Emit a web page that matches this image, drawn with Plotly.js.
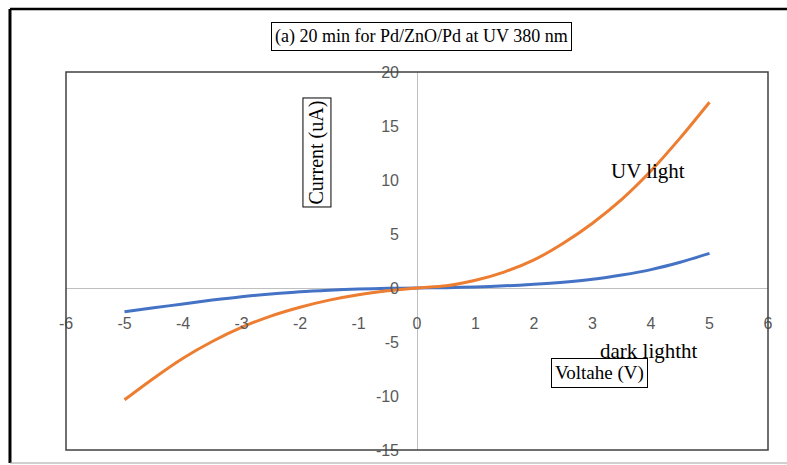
<!DOCTYPE html>
<html>
<head>
<meta charset="utf-8">
<script src="https://cdn.plot.ly/plotly-3.0.1.min.js"></script>
<style>html,body{margin:0;padding:0;background:#fff;}#chart{width:787px;height:465px;}</style>
</head>
<body>
<div id="chart"></div>
<script>
// Data
const voltage = [-5, -4.5, -4, -3.5, -3, -2.5, -2, -1.5, -1, -0.5, 0, 0.5, 1, 1.5, 2, 2.5, 3, 3.5, 4, 4.5, 5];
const uvLight = [-10.35, -8.35, -6.5, -4.95, -3.65, -2.6, -1.78, -1.12, -0.62, -0.26, 0, 0.2, 0.72, 1.5, 2.6, 4.15, 6.0, 8.2, 10.85, 13.9, 17.2];
const darkLight = [-2.19, -1.83, -1.48, -1.12, -0.8, -0.55, -0.34, -0.2, -0.1, -0.03, 0, 0.03, 0.1, 0.2, 0.34, 0.53, 0.8, 1.2, 1.7, 2.38, 3.2];

const xTickVals = [-6, -5, -4, -3, -2, -1, 0, 1, 2, 3, 4, 5, 6];
const xTickText = ["-6", "-5", "-4", "-3", "-2", "-1", "0", "1", "2", "3", "4", "5", "6"];
const yTickVals = [-15, -10, -5, 0, 5, 10, 15, 20];
const yTickText = ["-15", "-10", "-5", "0", "5", "10", "15", "20"];

const chartTitle = "(a) 20 min for Pd/ZnO/Pd at UV 380 nm";
const xTitle = "Voltahe (V)";
const yTitle = "Current (uA)";
const uvLabel = "UV light";
const darkLabel = "dark lightht";

const serif = "Liberation Serif, Times New Roman, serif";
const tickFont = {family: "Liberation Sans, Arial, sans-serif", size: 16, color: "#595959"};

const traces = [
  {x: voltage, y: darkLight, mode: "lines", line: {color: "#4472C4", width: 3, shape: "spline", smoothing: 0.8}, name: "dark", hoverinfo: "skip"},
  {x: voltage, y: uvLight, mode: "lines", line: {color: "#ED7D31", width: 3, shape: "spline", smoothing: 0.8}, name: "UV", hoverinfo: "skip"}
];

const boxed = {showarrow: false, xanchor: "center", yanchor: "middle", xref: "paper", yref: "paper",
  font: {family: serif, size: 18, color: "#000"}, bordercolor: "#000", borderwidth: 1, borderpad: 3, bgcolor: "#fff"};
const plain = {showarrow: false, xanchor: "center", yanchor: "middle", xref: "paper", yref: "paper",
  font: {family: serif, size: 21, color: "#000"}};

const layout = {
  width: 787, height: 465, autosize: false,
  margin: {l: 66, r: 19, t: 72, b: 15, pad: 0},
  paper_bgcolor: "#ffffff", plot_bgcolor: "#ffffff",
  showlegend: false,
  xaxis: {
    range: [-6, 6], anchor: "free", position: 15/35,
    tickmode: "array", tickvals: xTickVals, ticktext: xTickText,
    ticks: "", showgrid: false, showline: false,
    zeroline: true, zerolinecolor: "#bfbfbf", zerolinewidth: 1,
    tickfont: tickFont, ticklabelstandoff: 24, fixedrange: true
  },
  yaxis: {
    range: [-15, 20], anchor: "free", position: 0.5,
    tickmode: "array", tickvals: yTickVals, ticktext: yTickText,
    ticks: "", showgrid: false, showline: false,
    zeroline: true, zerolinecolor: "#bfbfbf", zerolinewidth: 1,
    tickfont: tickFont, ticklabelstandoff: 18, fixedrange: true
  },
  shapes: [
    {type: "rect", xref: "paper", yref: "paper", x0: 0, x1: 1, y0: 0, y1: 1, line: {color: "#404040", width: 1.5}, layer: "above"},
    {type: "line", xref: "paper", yref: "paper", x0: -0.0798, x1: 1.1, y0: 1.1667, y1: 1.1667, line: {color: "#000", width: 2.5}},
    {type: "line", xref: "paper", yref: "paper", x0: -0.0798, x1: -0.0798, y0: 1.1667, y1: -0.0344, line: {color: "#000", width: 3}},
    {type: "line", xref: "paper", yref: "paper", x0: -0.0798, x1: 1.1, y0: -0.0344, y1: -0.0344, line: {color: "#a0a0a0", width: 1}}
  ],
  annotations: [
    Object.assign({}, boxed, {text: chartTitle, x: 0.5057, y: 1.0926}),
    Object.assign({}, boxed, {text: yTitle, x: 0.3575, y: 0.787, textangle: -90, font: {family: serif, size: 20, color: "#000"}, borderpad: 2}),
    Object.assign({}, boxed, {text: xTitle, x: 0.760, y: 0.205, font: {family: serif, size: 19, color: "#000"}}),
    Object.assign({}, plain, {text: uvLabel, x: 0.829, y: 0.738}),
    Object.assign({}, plain, {text: darkLabel, x: 0.8305, y: 0.262})
  ]
};

Plotly.newPlot("chart", traces, layout, {displayModeBar: false, staticPlot: true});
</script>
</body>
</html>
